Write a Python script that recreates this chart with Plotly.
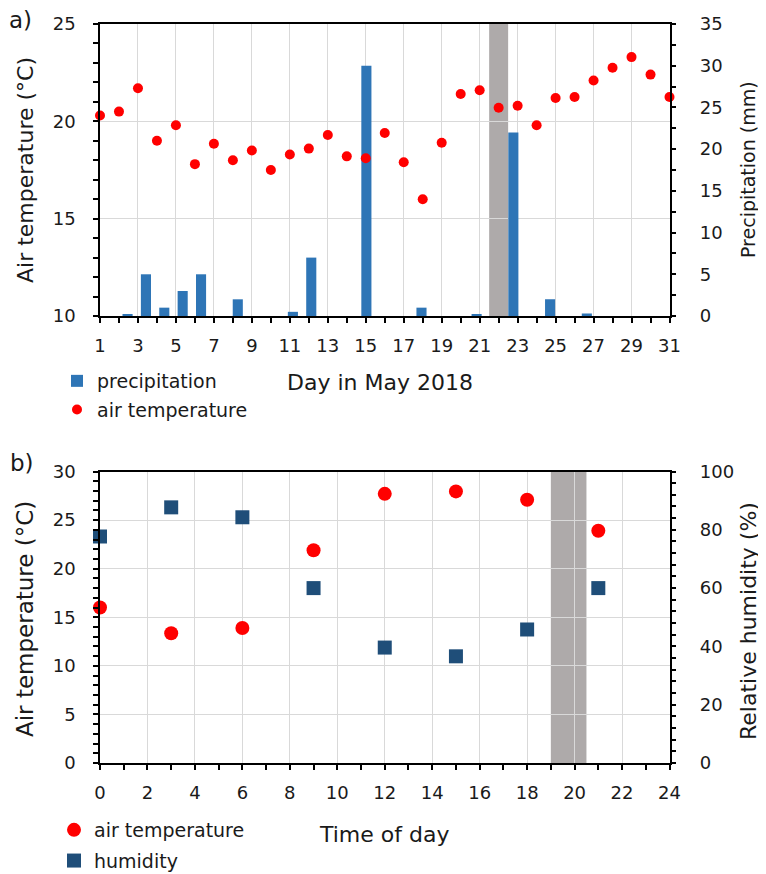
import plotly.graph_objects as go

# ---- data: panel a) ----
days = list(range(1, 32))
air_temp_may = [20.3, 20.5, 21.7, 19.0, 19.8, 17.8, 18.85, 18.0, 18.5, 17.5,
                18.3, 18.6, 19.3, 18.2, 18.1, 19.4, 17.9, 16.0, 18.9, 21.4,
                21.6, 20.7, 20.8, 19.8, 21.2, 21.25, 22.1, 22.75, 23.3, 22.4,
                21.25]
precip_may = [0.0, 0.15, 5.0, 1.0, 3.0, 5.0, 0.0, 2.0, 0.0, 0.0,
              0.5, 7.0, 0.0, 0.0, 30.0, 0.0, 0.0, 1.0, 0.0, 0.0,
              0.2, 0.0, 22.0, 0.0, 2.0, 0.0, 0.3, 0.0, 0.0, 0.0,
              0.0]
band_a = [21.5, 22.5]

# ---- data: panel b) ----
hours = [0, 3, 6, 9, 12, 15, 18, 21]
air_temp_day = [16.0, 13.35, 13.9, 21.9, 27.7, 27.95, 27.1, 23.9]
humidity_day = [77.7, 87.7, 84.3, 60.0, 39.6, 36.6, 45.8, 60.0]
band_b = [19.0, 20.5]

# the page body has an 8 px margin, so the figure is placed at (8, 8)
OFF = 8
W, H = 766 - OFF, 874 - OFF
FONT = "DejaVu Sans"
TXT = "#1a1a1a"

def px(x):
    return (x - OFF) / W

def py(y):
    return 1 - (y - OFF) / H

fig = go.Figure()

fig.add_trace(go.Bar(
    x=days, y=precip_may, name="precipitation", xaxis="x3", yaxis="y2",
    marker=dict(color="#2E75B6", line=dict(width=0)), width=0.55,
    legend="legend", legendgroup="p",
))
fig.add_trace(go.Scatter(
    x=days, y=air_temp_may, name="air temperature", mode="markers",
    xaxis="x4", yaxis="y", cliponaxis=False,
    marker=dict(color="#FF0000", size=10, symbol="circle"),
    legend="legend", legendgroup="t",
))
fig.add_trace(go.Scatter(
    x=hours, y=air_temp_day, name="air temperature", mode="markers",
    xaxis="x2", yaxis="y3", cliponaxis=False,
    marker=dict(color="#FF0000", size=14, symbol="circle"),
    legend="legend2", legendgroup="t2",
))
fig.add_trace(go.Scatter(
    x=hours, y=humidity_day, name="humidity", mode="markers",
    xaxis="x2", yaxis="y4", cliponaxis=False,
    marker=dict(color="#1F4E79", size=14, symbol="square"),
    legend="legend2", legendgroup="h2",
))

xdom = [px(100), px(669.5)]
dom_a = [py(316), py(24)]
dom_b = [py(763), py(471.5)]

tickfont = dict(family=FONT, size=18, color=TXT)
common = dict(showline=True, linecolor="black", linewidth=1.5, ticks="outside",
              ticklen=5, tickwidth=1.5, tickcolor="black", tickfont=tickfont,
              zeroline=False, automargin=False)
gridc = "#D9D9D9"

def minor(d, t0=None):
    m = dict(dtick=d, ticks="outside", ticklen=5, tickwidth=1.5,
             tickcolor="black", showgrid=False)
    if t0 is not None:
        m["tick0"] = t0
    return m

fig.update_layout(
    width=W, height=H, margin=dict(l=0, r=0, t=0, b=0, autoexpand=False),
    paper_bgcolor="white", plot_bgcolor="white",
    font=dict(family=FONT, color=TXT),
    xaxis=dict(domain=xdom, anchor="y", range=[1, 31], tick0=1, dtick=2,
               showgrid=True, gridcolor=gridc, gridwidth=1, mirror=True,
               minor=minor(1, 1), ticklabelstandoff=8, **common),
    xaxis3=dict(domain=xdom, anchor="y", overlaying="x", range=[0.5, 31.5],
                visible=False),
    xaxis4=dict(domain=xdom, anchor="y", overlaying="x", range=[1, 31],
                visible=False),
    yaxis=dict(domain=dom_a, anchor="x", range=[10, 25], dtick=5,
               showgrid=True, gridcolor=gridc, gridwidth=1,
               minor=minor(1), ticklabelstandoff=14, **common),
    yaxis2=dict(anchor="x", overlaying="y", side="right", range=[0, 35],
                dtick=5, showgrid=False, minor=minor(2.5),
                ticklabelstandoff=20, **common),
    xaxis2=dict(domain=xdom, anchor="y3", range=[0, 24], dtick=2,
                showgrid=True, gridcolor=gridc, gridwidth=1, mirror=True,
                minor=minor(1), ticklabelstandoff=8, **common),
    yaxis3=dict(domain=dom_b, anchor="x2", range=[0, 30], dtick=5,
                showgrid=True, gridcolor=gridc, gridwidth=1,
                minor=minor(1), ticklabelstandoff=14, **common),
    yaxis4=dict(anchor="x2", overlaying="y3", side="right", range=[0, 100],
                dtick=20, showgrid=False, minor=minor(4),
                ticklabelstandoff=20, **common),
    legend=dict(x=px(57), y=py(362), xanchor="left", yanchor="top",
                bgcolor="rgba(0,0,0,0)", font=dict(family=FONT, size=19, color=TXT),
                traceorder="grouped", tracegroupgap=1),
    legend2=dict(x=px(54), y=py(811), xanchor="left", yanchor="top",
                 bgcolor="rgba(0,0,0,0)", font=dict(family=FONT, size=19, color=TXT),
                 traceorder="grouped", tracegroupgap=3),
    showlegend=True,
)

fig.add_shape(type="rect", xref="x", yref="y domain", x0=band_a[0], x1=band_a[1],
              y0=0, y1=1, fillcolor="#AEAAAA", line=dict(width=0), layer="below")
fig.add_shape(type="rect", xref="x2", yref="y3 domain", x0=band_b[0], x1=band_b[1],
              y0=0, y1=1, fillcolor="#AEAAAA", line=dict(width=0), layer="below")

def ann(text, x, y, size, angle=0):
    fig.add_annotation(text=text, x=px(x), y=py(y), xref="paper", yref="paper",
                       showarrow=False, textangle=angle, xanchor="center",
                       yanchor="middle", font=dict(family=FONT, size=size, color=TXT))

ann("a)", 20, 20, 23)
ann("b)", 22, 463, 23)
ann("Air temperature (°C)", 25, 170, 22, -90)
ann("Precipitation (mm)", 748, 170, 19, -90)
ann("Day in May 2018", 380, 382, 22)
ann("Air temperature (°C)", 25, 619, 23, -90)
ann("Relative humidity (%)", 748, 621, 22, -90)
ann("Time of day", 384, 834, 22)

fig.write_html("out.html")
